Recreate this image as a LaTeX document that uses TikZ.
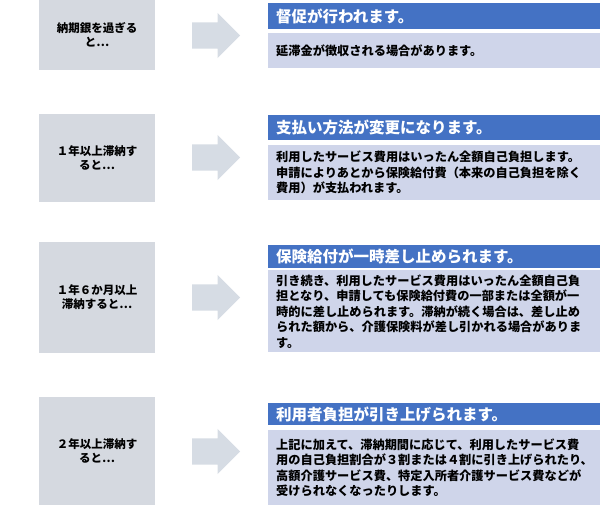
\documentclass[tikz,border=0pt]{standalone}
\usepackage{fontspec}
\newfontfamily\cjk{Noto Sans CJK JP}
\usetikzlibrary{positioning,shapes.arrows}
\definecolor{stepgray}{HTML}{D5D9E0}
\definecolor{arrowgray}{HTML}{D6DCE4}
\definecolor{headblue}{HTML}{4472C4}
\definecolor{bodyblue}{HTML}{CFD5EA}
\tikzset{
  case/.style={fill=stepgray,minimum width=116pt,align=center,font=\cjk\bfseries\fontsize{11.5}{14}\selectfont,inner sep=0pt},
  goarrow/.style={single arrow,fill=arrowgray,minimum height=48pt,minimum width=45pt,
    single arrow head extend=9.5pt,inner ysep=13pt,inner xsep=0pt,anchor=west},
  head/.style={fill=headblue,text=white,minimum width=330pt,inner xsep=8pt,anchor=north west,
    text width=322pt,font=\cjk\bfseries\fontsize{15.5}{17}\selectfont},
  body/.style={fill=bodyblue,minimum width=330pt,inner xsep=8pt,anchor=north west,
    text width=322pt,align=left,font=\cjk\bfseries\fontsize{12.2}{15.5}\selectfont},
}
\begin{document}
\begin{tikzpicture}[x=1pt,y=-1pt]
    \useasboundingbox (0,0) rectangle (600,509);
    %row 1
    \node[case,minimum height=70pt] (c1) at (97,35) {納期銀を過ぎる\\と…};
    \node[goarrow] (a1) at (192,35.5) {};
    \node[head,minimum height=26pt] (h1) at (268,3) {督促が行われます。};
    \node[body,minimum height=35pt] (b1) at (268,33) {延滞金が徴収される場合があります。};
    %row 2
    \node[case,minimum height=88pt] (c2) at (97,158) {１年以上滞納す\\ると…};
    \node[goarrow] (a2) at (192,157.5) {};
    \node[head,minimum height=25pt] (h2) at (268,115) {支払い方法が変更になります。};
    \node[body,minimum height=55pt] (b2) at (268,145) {利用したサービス費用はいったん全額自己負担します。\\申請によりあとから保険給付費（本来の自己負担を除く\\費用）が支払われます。};
    %row 3
    \node[case,minimum height=111pt] (c3) at (97,297.5) {１年６か月以上\\滞納すると…};
    \node[goarrow] (a3) at (192,297.5) {};
    \node[head,minimum height=23pt] (h3) at (268,245) {保険給付が一時差し止められます。};
    \node[body,minimum height=82pt] (b3) at (268,270) {引き続き、利用したサービス費用はいったん全額自己負\\担となり、申請しても保険給付費の一部または全額が一\\時的に差し止められます。滞納が続く場合は、差し止め\\られた額から、介護保険料が差し引かれる場合がありま\\す。};
    %row 4
    \node[case,minimum height=108pt] (c4) at (97,451) {２年以上滞納す\\ると…};
    \node[goarrow] (a4) at (192,451.5) {};
    \node[head,minimum height=22pt] (h4) at (268,403) {利用者負担が引き上げられます。};
    \node[body,minimum height=75pt] (b4) at (268,430) {上記に加えて、滞納期間に応じて、利用したサービス費\\用の自己負担割合が３割または４割に引き上げられたり、\\高額介護サービス費、特定入所者介護サービス費などが\\受けられなくなったりします。\\[6pt]};
\end{tikzpicture}
\end{document}
